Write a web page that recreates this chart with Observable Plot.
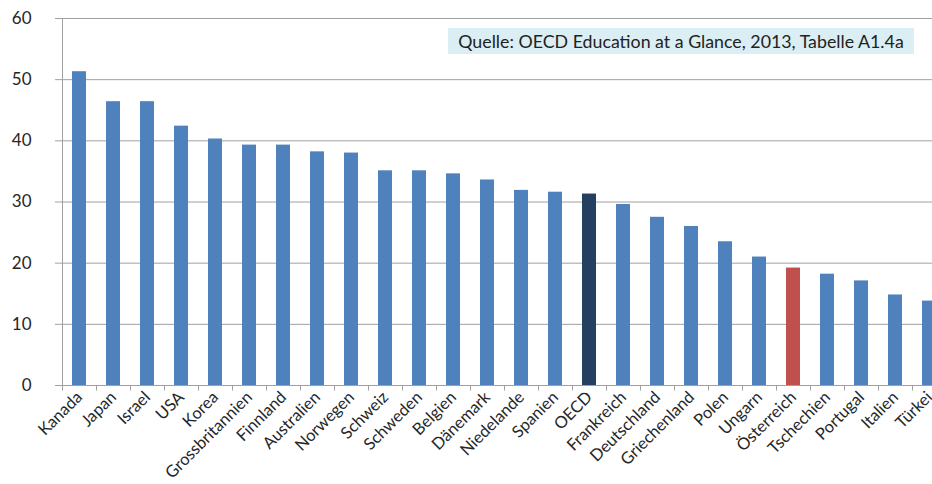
<!DOCTYPE html>
<html><head><meta charset="utf-8">
<script src="https://cdn.jsdelivr.net/npm/d3@7"></script>
<script src="https://cdn.jsdelivr.net/npm/@observablehq/plot@0.6"></script>
<style>
html,body{margin:0;padding:0;background:#fff;overflow:hidden;width:932px;height:484px}
#wrap{position:relative;width:932px;height:484px;overflow:hidden}
#wrap svg{position:absolute;left:0;top:0}
#src{position:absolute;left:448px;top:28px;width:466px;height:26px;background:#DAEEF3;font:17.8px Lato,sans-serif;color:#222;line-height:27px;text-align:center;white-space:nowrap}
</style></head><body><div id="wrap"><div id="src">Quelle: OECD Education at a Glance, 2013, Tabelle A1.4a</div></div>
<script>
const countries = ["Kanada","Japan","Israel","USA","Korea","Grossbritannien","Finnland","Australien","Norwegen","Schweiz","Schweden","Belgien","Dänemark","Niedelande","Spanien","OECD","Frankreich","Deutschland","Griechenland","Polen","Ungarn","Österreich","Tschechien","Portugal","Italien","Türkei"];
const values = [51.3,46.4,46.4,42.4,40.3,39.3,39.3,38.2,38.0,35.1,35.1,34.6,33.6,31.9,31.6,31.3,29.6,27.5,26.0,23.5,21.0,19.2,18.2,17.1,14.8,13.8];
const yTicks = [0,10,20,30,40,50,60];
const barColors = {default: "#4F81BD", OECD: "#243F60", "Österreich": "#C0504D"};

const table = countries.map((c, i) => ({country: c, value: values[i]}));
const W = 946, ML = 62;
const halfStep = (W - ML) / countries.length / 2;
const axisColor = "#a0a0a0";

const chart = Plot.plot({
  width: W,
  height: 484,
  marginLeft: ML,
  marginRight: 0,
  marginTop: 18,
  marginBottom: 99,
  style: {fontFamily: "Lato, sans-serif", maxWidth: "none", background: "transparent", overflow: "visible"},
  x: {domain: countries, paddingInner: 0.6, paddingOuter: 0.3, label: null},
  y: {domain: [0, 60], label: null},
  marks: [
    Plot.gridY(yTicks, {stroke: axisColor, strokeOpacity: 1, strokeWidth: 1}),
    Plot.axisY(yTicks, {tickSize: 7, tickPadding: 24, stroke: axisColor, fill: "#262626", fontSize: 17, label: null}),
    Plot.ruleY([0], {stroke: axisColor}),
    Plot.ruleX([countries[0]], {y1: 0, y2: 60, dx: -halfStep, stroke: axisColor}),
    Plot.ruleX(countries, {y1: 0, y2: -0.9, dx: -halfStep, stroke: axisColor}),
    Plot.barY(table, {x: "country", y: "value", fill: d => barColors[d.country] ?? barColors.default}),
    Plot.axisX({tickRotate: -45, tickSize: 0, tickPadding: 9, fontSize: 16.5, fill: "#262626", label: null})
  ]
});
const wrap = document.getElementById("wrap");
wrap.insertBefore(chart, document.getElementById("src"));
</script>
</body></html>
